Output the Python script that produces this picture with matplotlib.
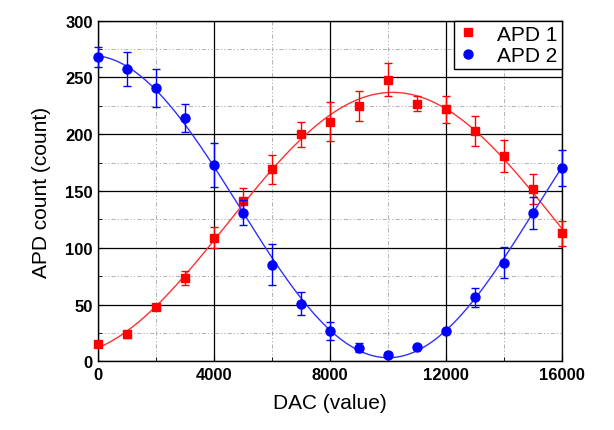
import numpy as np
import matplotlib
matplotlib.use("Agg")
import matplotlib.pyplot as plt
from matplotlib.ticker import MultipleLocator

plt.rcParams['font.family'] = ['Liberation Sans', 'DejaVu Sans']

dac = [0, 1000, 2000, 3000, 4000, 5000, 6000, 7000, 8000, 9000, 10000,
       11000, 12000, 13000, 14000, 15000, 16000]
apd1 = [15, 24, 48, 73.5, 109, 141, 169, 200, 211, 225, 248,
        227, 222, 203, 181, 152, 113]
apd1_err = [2, 3, 2, 6, 9, 12, 13, 11, 17, 13, 14.5,
            7, 12, 13, 14, 13, 11]
apd2 = [268, 257, 240.5, 214.5, 173, 131, 85, 51, 27, 12, 6,
        12.5, 27, 56.5, 87, 131, 170]
apd2_err = [9, 15, 17, 12.5, 19.5, 11, 18, 10, 8, 4, 2,
            1, 1.5, 8.5, 13.5, 14, 16]

def sine_fit(x, y):
    x = np.asarray(x, float); y = np.asarray(y, float)
    best = None
    for period in np.linspace(12000, 30000, 1801):
        w = 2 * np.pi / period
        A = np.column_stack([np.ones_like(x), np.cos(w * x), np.sin(w * x)])
        coef, *_ = np.linalg.lstsq(A, y, rcond=None)
        r = np.sum((A @ coef - y) ** 2)
        if best is None or r < best[0]:
            best = (r, w, coef)
    _, w, c = best
    return lambda t: c[0] + c[1] * np.cos(w * t) + c[2] * np.sin(w * t)

fig = plt.figure(figsize=(6.14, 4.31), dpi=100)
ax = fig.add_axes([0.160, 0.159, 0.755, 0.791])

xs = np.linspace(0, 16000, 400)
f1 = sine_fit(dac, apd1)
f2 = sine_fit(dac, apd2)
ax.plot(xs, f1(xs), color='#ff3030', lw=1.0, zorder=3)
ax.plot(xs, f2(xs), color='#3030ff', lw=1.0, zorder=3)

ax.errorbar(dac, apd1, yerr=apd1_err, fmt='s', color='#ff0000', ms=5.5,
            capsize=3, elinewidth=1, capthick=1, label='APD 1', zorder=4,
            clip_on=False)
ax.errorbar(dac, apd2, yerr=apd2_err, fmt='o', color='#0000ff', ms=6.5,
            capsize=3, elinewidth=1, capthick=1, label='APD 2', zorder=5,
            clip_on=False)

ax.set_xlim(0, 16000)
ax.set_ylim(0, 300)
ax.xaxis.set_major_locator(MultipleLocator(4000))
ax.xaxis.set_minor_locator(MultipleLocator(2000))
ax.yaxis.set_major_locator(MultipleLocator(50))
ax.yaxis.set_minor_locator(MultipleLocator(25))
ax.grid(which='major', color='black', lw=0.9, ls='-', zorder=1)
ax.grid(which='minor', color='#b4b4b4', lw=0.75,
        ls=(0, (4, 2, 1.2, 2, 1.2, 2)), zorder=1)
ax.set_axisbelow(True)

ax.tick_params(which='both', direction='in', top=False, right=False)
ax.tick_params(which='major', length=4, labelsize=12, pad=4)
ax.tick_params(which='minor', length=3)
for lab in ax.get_xticklabels() + ax.get_yticklabels():
    lab.set_fontweight('bold')
for s in ax.spines.values():
    s.set_linewidth(1.0)

ax.set_xlabel('DAC (value)', fontsize=15, labelpad=8)
ax.set_ylabel('APD count (count)', fontsize=15, labelpad=10)

h, l = ax.get_legend_handles_labels()
h = [hh[0] for hh in h]
leg = ax.legend(h, l, loc='upper right', fontsize=15, frameon=True,
                fancybox=False, edgecolor='black', borderaxespad=0,
                handletextpad=0.9, borderpad=0.2, labelspacing=0.12,
                handlelength=1.0)
leg.get_frame().set_linewidth(1.0)
leg.get_frame().set_alpha(1)

fig.savefig('out.png', dpi=100)
